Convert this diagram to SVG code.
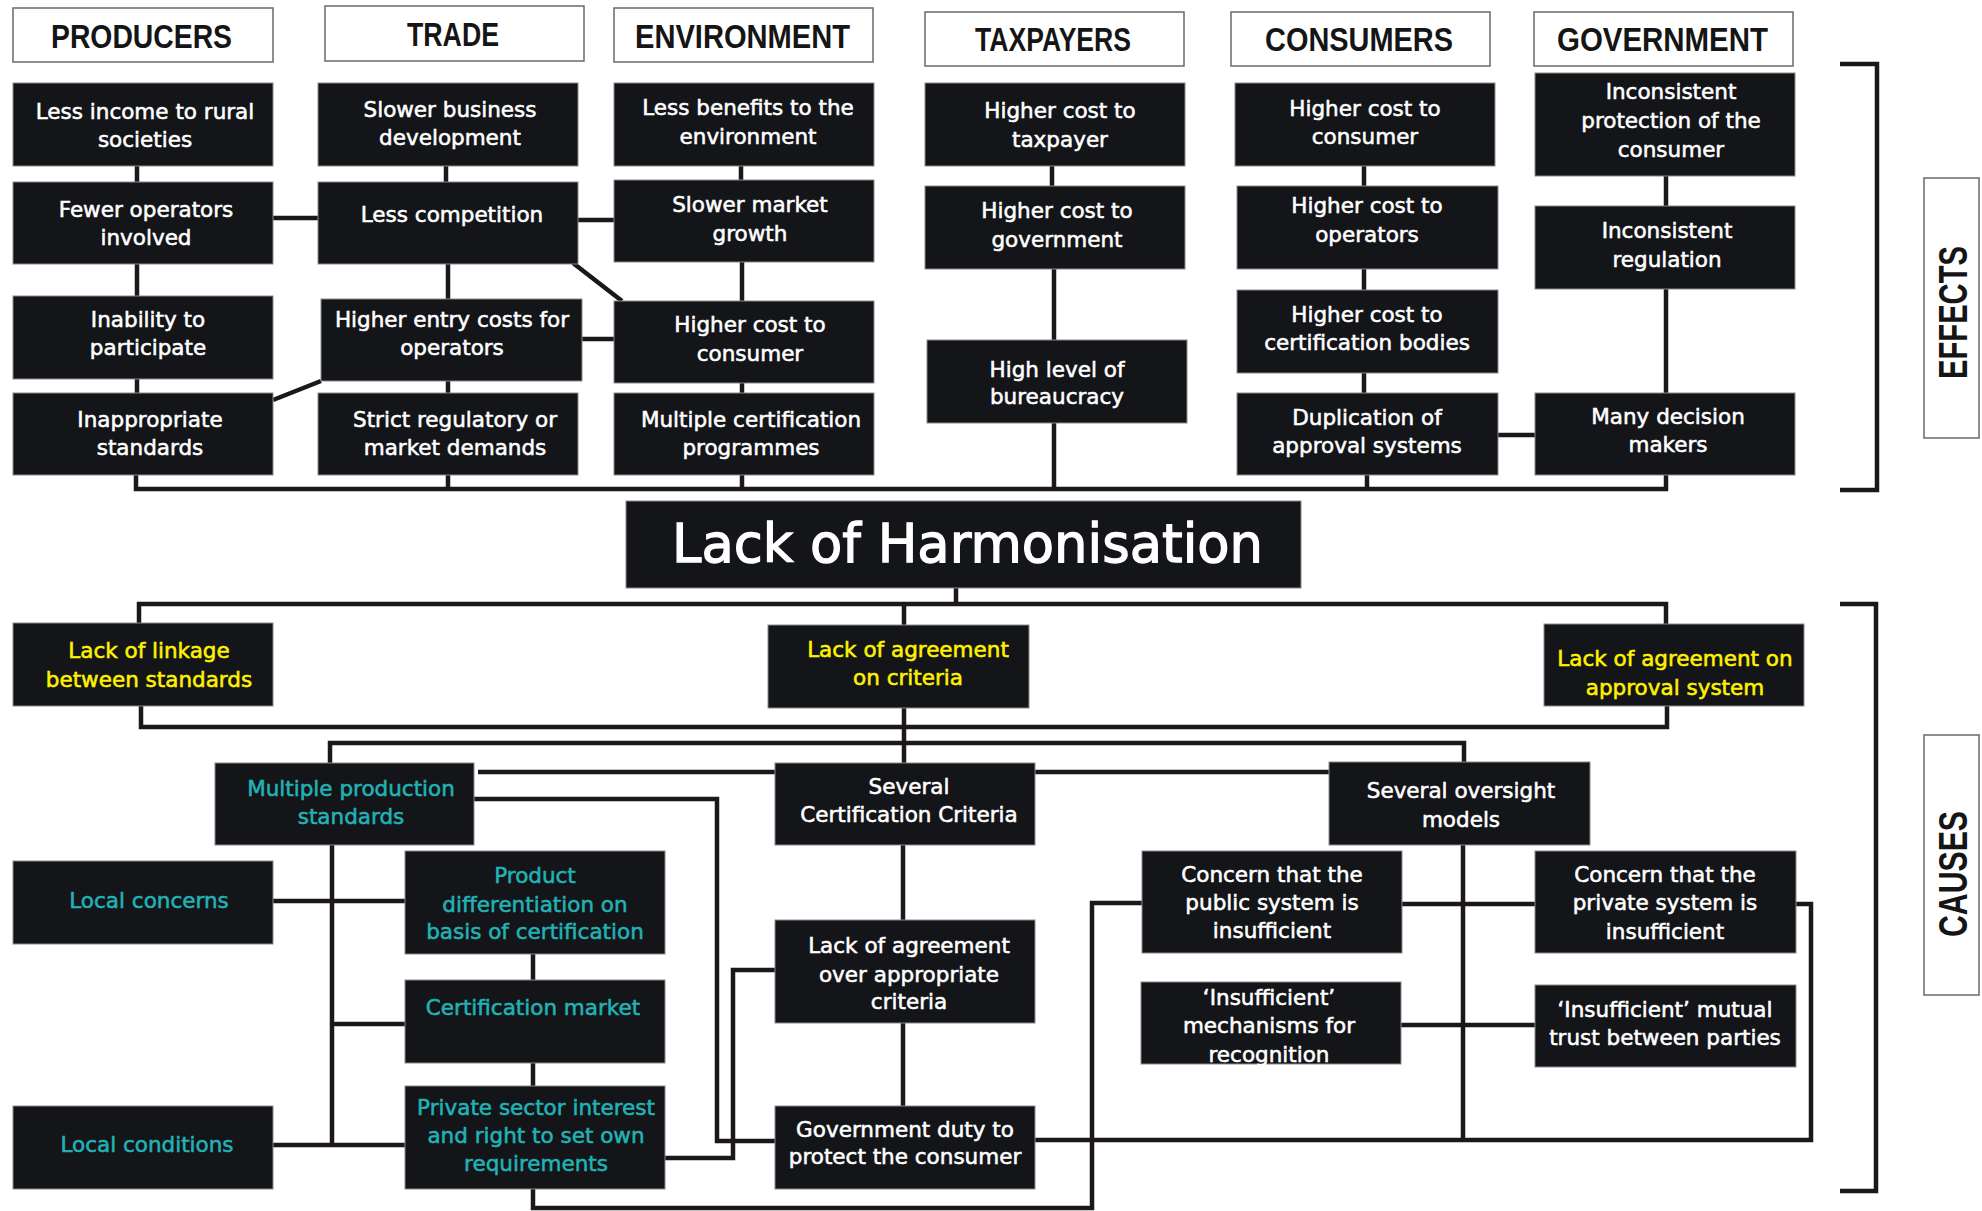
<svg xmlns="http://www.w3.org/2000/svg" width="1982" height="1211" viewBox="0 0 1982 1211">
<style>
.bg{fill:#ffffff}
.hdr{fill:#ffffff;stroke:#6a6a6a;stroke-width:1.5}
.box{fill:#141519;stroke:#8a8a8a;stroke-width:1}
.h{font-family:"Liberation Sans",Arial,sans-serif;font-weight:bold;font-size:33px;fill:#151515}
.side{font-family:"Liberation Sans",Arial,sans-serif;font-weight:bold;font-size:40px;fill:#151515}
.t{font-family:"DejaVu Sans","Liberation Sans",sans-serif;font-size:21.5px;fill:#ffffff;stroke:#ffffff;stroke-width:0.55;text-anchor:middle}
.y{fill:#fff200;stroke:#fff200}
.c{fill:#22b2b5;stroke:#22b2b5}
.title{font-family:"DejaVu Sans","Liberation Sans",sans-serif;font-size:54px;fill:#ffffff;stroke:#ffffff;stroke-width:1.3}
.ln{fill:none;stroke:#1c1718;stroke-width:4.5}
</style>
<rect class="bg" x="0" y="0" width="1982" height="1211"/>

<g id="connectors">
<path class="ln" d="M137 166V182 M137 264V296 M137 379V393 M136 475V489H1666V475 M273 218H318 M578 220H614 M573 263L622 301 M582 339H614 M273 400L321 381 M446 166V182 M448 264V299 M448 381V393 M448 475V489 M741 166V180 M742 262V301 M742 383V393 M742 475V489 M1052 166V186 M1054 269V340 M1054 423V489 M1364 166V186 M1364 269V290 M1364 373V393 M1367 475V489 M1666 176V206 M1666 289V393 M1498 435H1535"/>
<path class="ln" d="M1840 64H1877V490H1840"/>
<path class="ln" d="M956 588V604 M139 623V604H1666V624 M904 604V763 M141 706V727H1667V706 M330 763V743H1464V762 M478 772H1329 M474 799H717V1141H775 M332 845V1145 M273 901H405 M332 1024H405 M273 1145H405 M533 954V980 M533 1063V1086 M665 1158H733V970H775 M533 1189V1208H1092V903H1142 M903 845V920 M903 1023V1106 M1035 1140H1811V904H1796 M1463 845V1140 M1402 904H1535 M1401 1025H1535"/>
<path class="ln" d="M1840 604H1876V1191H1840"/>
</g>

<g id="h-producers"><rect class="hdr" x="13" y="8" width="260" height="54"/><text class="h" x="51" y="48" textLength="181" lengthAdjust="spacingAndGlyphs">PRODUCERS</text></g>
<g id="h-trade"><rect class="hdr" x="325" y="6" width="259" height="55"/><text class="h" x="407" y="46" textLength="92" lengthAdjust="spacingAndGlyphs">TRADE</text></g>
<g id="h-environment"><rect class="hdr" x="614" y="8" width="259" height="54"/><text class="h" x="635" y="48" textLength="215" lengthAdjust="spacingAndGlyphs">ENVIRONMENT</text></g>
<g id="h-taxpayers"><rect class="hdr" x="925" y="12" width="259" height="54"/><text class="h" x="975" y="51" textLength="156" lengthAdjust="spacingAndGlyphs">TAXPAYERS</text></g>
<g id="h-consumers"><rect class="hdr" x="1231" y="12" width="259" height="54"/><text class="h" x="1265" y="51" textLength="188" lengthAdjust="spacingAndGlyphs">CONSUMERS</text></g>
<g id="h-government"><rect class="hdr" x="1534" y="12" width="259" height="54"/><text class="h" x="1557" y="51" textLength="211" lengthAdjust="spacingAndGlyphs">GOVERNMENT</text></g>

<g id="effects-label"><rect class="hdr" x="1924" y="178" width="55" height="260"/><text class="side" transform="translate(1967,379) rotate(-90)" x="0" y="0" textLength="133" lengthAdjust="spacingAndGlyphs">EFFECTS</text></g>
<g id="causes-label"><rect class="hdr" x="1924" y="735" width="55" height="260"/><text class="side" transform="translate(1967,937) rotate(-90)" x="0" y="0" textLength="126" lengthAdjust="spacingAndGlyphs">CAUSES</text></g>

<g id="p1"><rect class="box" x="13" y="83" width="260" height="83"/><text class="t" x="145" y="119">Less income to rural</text><text class="t" x="145" y="147">societies</text></g>
<g id="p2"><rect class="box" x="13" y="182" width="260" height="82"/><text class="t" x="146" y="217">Fewer operators</text><text class="t" x="146" y="245">involved</text></g>
<g id="p3"><rect class="box" x="13" y="296" width="260" height="83"/><text class="t" x="148" y="327">Inability to</text><text class="t" x="148" y="355">participate</text></g>
<g id="p4"><rect class="box" x="13" y="393" width="260" height="82"/><text class="t" x="150" y="427">Inappropriate</text><text class="t" x="150" y="455">standards</text></g>

<g id="t1"><rect class="box" x="318" y="83" width="260" height="83"/><text class="t" x="450" y="117">Slower business</text><text class="t" x="450" y="145">development</text></g>
<g id="t2"><rect class="box" x="318" y="182" width="260" height="82"/><text class="t" x="452" y="222">Less competition</text></g>
<g id="t3"><rect class="box" x="321" y="299" width="261" height="82"/><text class="t" x="452" y="327">Higher entry costs for</text><text class="t" x="452" y="355">operators</text></g>
<g id="t4"><rect class="box" x="318" y="393" width="260" height="82"/><text class="t" x="455" y="427">Strict regulatory or</text><text class="t" x="455" y="455">market demands</text></g>

<g id="e1"><rect class="box" x="614" y="83" width="260" height="83"/><text class="t" x="748" y="115">Less benefits to the</text><text class="t" x="748" y="144">environment</text></g>
<g id="e2"><rect class="box" x="614" y="180" width="260" height="82"/><text class="t" x="750" y="212">Slower market</text><text class="t" x="750" y="241">growth</text></g>
<g id="e3"><rect class="box" x="614" y="301" width="260" height="82"/><text class="t" x="750" y="332">Higher cost to</text><text class="t" x="750" y="361">consumer</text></g>
<g id="e4"><rect class="box" x="614" y="393" width="260" height="82"/><text class="t" x="751" y="427">Multiple certification</text><text class="t" x="751" y="455">programmes</text></g>

<g id="x1"><rect class="box" x="925" y="83" width="260" height="83"/><text class="t" x="1060" y="118">Higher cost to</text><text class="t" x="1060" y="147">taxpayer</text></g>
<g id="x2"><rect class="box" x="925" y="186" width="260" height="83"/><text class="t" x="1057" y="218">Higher cost to</text><text class="t" x="1057" y="247">government</text></g>
<g id="x3"><rect class="box" x="927" y="340" width="260" height="83"/><text class="t" x="1057" y="377">High level of</text><text class="t" x="1057" y="404">bureaucracy</text></g>

<g id="c1"><rect class="box" x="1235" y="83" width="260" height="83"/><text class="t" x="1365" y="116">Higher cost to</text><text class="t" x="1365" y="144">consumer</text></g>
<g id="c2"><rect class="box" x="1237" y="186" width="261" height="83"/><text class="t" x="1367" y="213">Higher cost to</text><text class="t" x="1367" y="242">operators</text></g>
<g id="c3"><rect class="box" x="1237" y="290" width="261" height="83"/><text class="t" x="1367" y="322">Higher cost to</text><text class="t" x="1367" y="350">certification bodies</text></g>
<g id="c4"><rect class="box" x="1237" y="393" width="261" height="82"/><text class="t" x="1367" y="425">Duplication of</text><text class="t" x="1367" y="453">approval systems</text></g>

<g id="g1"><rect class="box" x="1535" y="73" width="260" height="103"/><text class="t" x="1671" y="99">Inconsistent</text><text class="t" x="1671" y="128">protection of the</text><text class="t" x="1671" y="157">consumer</text></g>
<g id="g2"><rect class="box" x="1535" y="206" width="260" height="83"/><text class="t" x="1667" y="238">Inconsistent</text><text class="t" x="1667" y="267">regulation</text></g>
<g id="g3"><rect class="box" x="1535" y="393" width="260" height="82"/><text class="t" x="1668" y="424">Many decision</text><text class="t" x="1668" y="452">makers</text></g>

<g id="main"><rect class="box" x="626" y="501" width="675" height="87"/><text class="title" x="672" y="562" textLength="591" lengthAdjust="spacingAndGlyphs">Lack of Harmonisation</text></g>

<g id="y1"><rect class="box" x="13" y="623" width="260" height="83"/><text class="t y" x="149" y="658">Lack of linkage</text><text class="t y" x="149" y="687">between standards</text></g>
<g id="y2"><rect class="box" x="768" y="625" width="261" height="83"/><text class="t y" x="908" y="657">Lack of agreement</text><text class="t y" x="908" y="685">on criteria</text></g>
<g id="y3"><rect class="box" x="1544" y="624" width="260" height="82"/><text class="t y" x="1675" y="666">Lack of agreement on</text><text class="t y" x="1675" y="695">approval system</text></g>

<g id="mps"><rect class="box" x="215" y="763" width="259" height="82"/><text class="t c" x="351" y="796">Multiple production</text><text class="t c" x="351" y="824">standards</text></g>
<g id="scc"><rect class="box" x="775" y="763" width="260" height="82"/><text class="t" x="909" y="794">Several</text><text class="t" x="909" y="822">Certification Criteria</text></g>
<g id="som"><rect class="box" x="1329" y="762" width="261" height="83"/><text class="t" x="1461" y="798">Several oversight</text><text class="t" x="1461" y="827">models</text></g>

<g id="lc"><rect class="box" x="13" y="861" width="260" height="83"/><text class="t c" x="149" y="908">Local concerns</text></g>
<g id="pd"><rect class="box" x="405" y="851" width="260" height="103"/><text class="t c" x="535" y="883">Product</text><text class="t c" x="535" y="912">differentiation on</text><text class="t c" x="535" y="939">basis of certification</text></g>
<g id="cm"><rect class="box" x="405" y="980" width="260" height="83"/><text class="t c" x="533" y="1015">Certification market</text></g>
<g id="ps"><rect class="box" x="405" y="1086" width="260" height="103"/><text class="t c" x="536" y="1115">Private sector interest</text><text class="t c" x="536" y="1143">and right to set own</text><text class="t c" x="536" y="1171">requirements</text></g>
<g id="lco"><rect class="box" x="13" y="1106" width="260" height="83"/><text class="t c" x="147" y="1152">Local conditions</text></g>

<g id="la"><rect class="box" x="775" y="920" width="260" height="103"/><text class="t" x="909" y="953">Lack of agreement</text><text class="t" x="909" y="982">over appropriate</text><text class="t" x="909" y="1009">criteria</text></g>
<g id="gd"><rect class="box" x="775" y="1106" width="260" height="83"/><text class="t" x="905" y="1137">Government duty to</text><text class="t" x="905" y="1164">protect the consumer</text></g>

<g id="cp"><rect class="box" x="1142" y="851" width="260" height="102"/><text class="t" x="1272" y="882">Concern that the</text><text class="t" x="1272" y="910">public system is</text><text class="t" x="1272" y="938">insufficient</text></g>
<g id="im"><rect class="box" x="1141" y="982" width="260" height="82"/><text class="t" x="1269" y="1005">‘Insufficient’</text><text class="t" x="1269" y="1033">mechanisms for</text><text class="t" x="1269" y="1062">recognition</text></g>
<g id="cpr"><rect class="box" x="1535" y="851" width="261" height="102"/><text class="t" x="1665" y="882">Concern that the</text><text class="t" x="1665" y="910">private system is</text><text class="t" x="1665" y="939">insufficient</text></g>
<g id="mt"><rect class="box" x="1535" y="985" width="261" height="82"/><text class="t" x="1665" y="1017">‘Insufficient’ mutual</text><text class="t" x="1665" y="1045">trust between parties</text></g>
</svg>
